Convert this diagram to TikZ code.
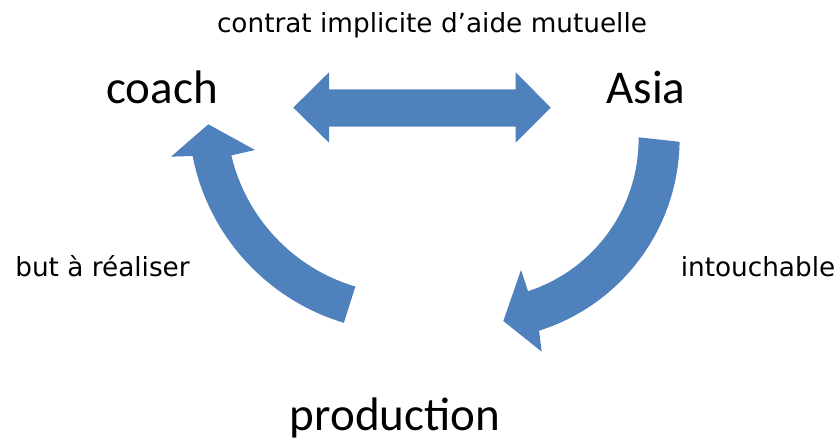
\documentclass[tikz,border=0pt]{standalone}
\usepackage{fontspec}
\setmainfont{DejaVu Sans}
\newfontfamily\bigfont{Carlito}
\usetikzlibrary{calc}
\definecolor{arrowblue}{HTML}{4F81BD}
\begin{document}
\begin{tikzpicture}[x=1bp,y=1bp,
  blockarrow/.style={fill=arrowblue, draw=none},
  smalllabel/.style={anchor=base, inner sep=0pt, font=\fontsize{26.4}{30}\selectfont},
  biglabel/.style={anchor=base, inner sep=0pt, font=\bigfont\fontsize{47.2}{52}\selectfont}]
\useasboundingbox (0,0) rectangle (839,443);
% double arrow
\fill[blockarrow] (293.3,335.4) -- (329,370.7) -- (329,353.7) -- (515.7,353.7) -- (515.7,370.7)
  -- (550.7,335.4) -- (515.7,300.3) -- (515.7,316.3) -- (329,316.3) -- (329,300.3) -- cycle;
% left curved arrow
\coordinate (cl) at (406.5,329);
\fill[blockarrow] ($(cl)+(253.3:218bp)$) arc[start angle=253.3, end angle=191.1, radius=218bp]
  -- (171,286.3) -- (208.3,318.7) -- (255,293) -- ($(cl)+(193.3:180bp)$)
  arc[start angle=193.3, end angle=253.5, radius=180bp] -- cycle;
% right curved arrow
\coordinate (cr) at (478.6,304);
\fill[blockarrow] ($(cr)+(-0.8:201bp)$) arc[start angle=-0.8, end angle=-72.5, radius=201bp]
  -- (541.7,91.3) -- (503.3,122) -- (521,173) -- ($(cr)+(-72:160bp)$)
  arc[start angle=-72, end angle=0.6, radius=160bp] -- cycle;
% labels
\node[smalllabel] (contract) at (432,410) {contrat implicite d’aide mutuelle};
\node[biglabel] (coach) at (162,339) {coach};
\node[biglabel] (asia) at (646,339) {Asia};
\node[smalllabel] (goal) at (102.5,166) {but à réaliser};
\node[smalllabel] (untouchable) at (758,166) {intouchable};
\node[biglabel] (production) at (395,12) {production};
\end{tikzpicture}
\end{document}
